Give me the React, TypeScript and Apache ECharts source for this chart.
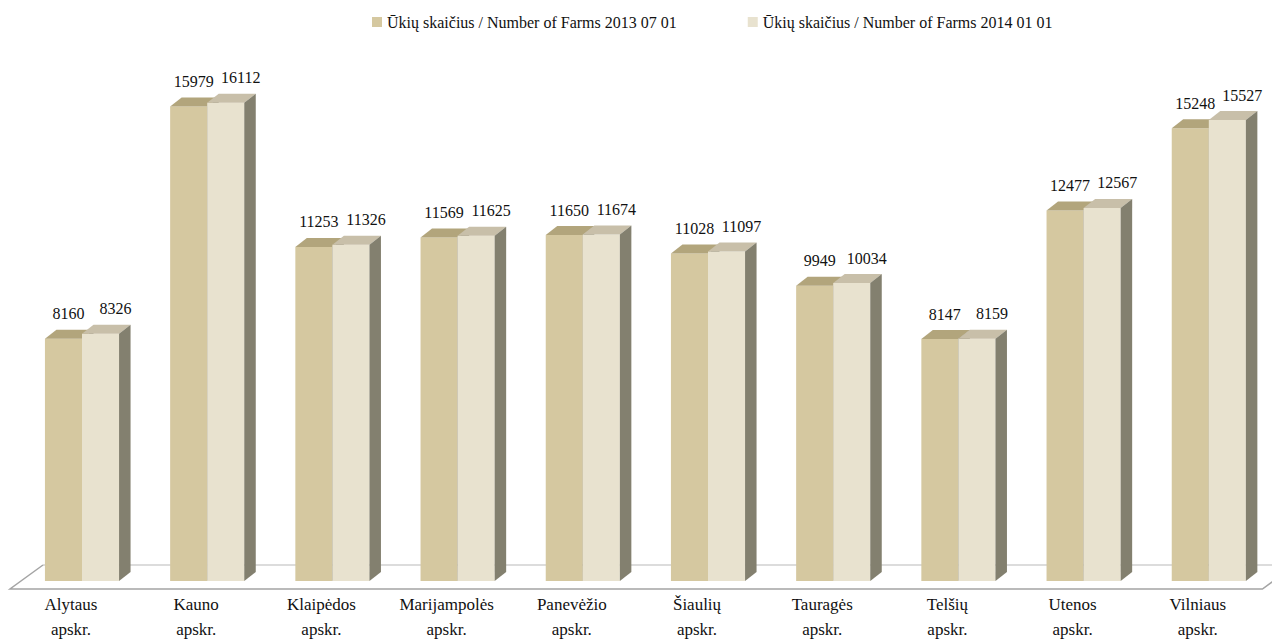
import React, { useEffect, useRef } from "react";
import * as echarts from "echarts";

const categories = [
  "Alytaus\napskr.",
  "Kauno\napskr.",
  "Klaipėdos\napskr.",
  "Marijampolės\napskr.",
  "Panevėžio\napskr.",
  "Šiaulių\napskr.",
  "Tauragės\napskr.",
  "Telšių\napskr.",
  "Utenos\napskr.",
  "Vilniaus\napskr.",
];
const farms2013 = [8160, 15979, 11253, 11569, 11650, 11028, 9949, 8147, 12477, 15248];
const farms2014 = [8326, 16112, 11326, 11625, 11674, 11097, 10034, 8159, 12567, 15527];
const seriesNames = [
  "Ūkių skaičius / Number of Farms 2013 07 01",
  "Ūkių skaičius / Number of Farms 2014 01 01",
];

const FONT = "Liberation Serif";
const DX = 11.5;
const DY = 9;
const front = ["#d5c8a0", "#e8e2cf"];
const top = ["#b2a57c", "#c8bfa9"];
const side = "#83806f";

function makeBarRender(s: number) {
  return (params: any, api: any) => {
    const idx = api.value(0);
    const val = api.value(1);
    const p = api.coord([idx, val]);
    const b = api.coord([idx, 0]);
    const band = api.size([1, 0])[0];
    const w = band * 0.296;
    const cx = p[0];
    const yTop = p[1];
    const y0 = b[1];
    const x0 = s === 0 ? cx - w : cx;
    const x1 = x0 + w;
    const children: any[] = [
      {
        type: "rect",
        shape: { x: x0, y: yTop, width: w, height: y0 - yTop },
        style: { fill: front[s] },
      },
      {
        type: "polygon",
        shape: {
          points: [
            [x0, yTop],
            [x0 + DX, yTop - DY],
            [x1 + DX, yTop - DY],
            [x1, yTop],
          ],
        },
        style: { fill: top[s] },
      },
      {
        type: "polygon",
        shape: {
          points: [
            [x1, yTop],
            [x1 + DX, yTop - DY],
            [x1 + DX, y0 - DY],
            [x1, y0],
          ],
        },
        style: { fill: side },
      },
      {
        type: "text",
        style: {
          text: String(val),
          x: x0 + w / 2 + (s === 0 ? 5 : 15),
          y: yTop - DY - 8,
          align: "center",
          verticalAlign: "bottom",
          fontFamily: FONT,
          fontSize: 16,
          fill: "#111",
        },
      },
    ];
    return { type: "group", children };
  };
}

function renderFloor(params: any, api: any) {
  const cs = params.coordSys;
  const y0 = api.coord([0, 0])[1];
  const yf = y0 + 8;
  const yb = y0 - 16;
  const xl = 10;
  const xr = cs.x + cs.width;
  return {
    type: "group",
    children: [
      {
        type: "polygon",
        shape: {
          points: [
            [xl, yf],
            [xl + 33, yb],
            [xr + 40, yb],
            [xr - 9, yf],
          ],
        },
        style: { fill: "#ffffff", stroke: "none" },
      },
      {
        type: "polyline",
        shape: { points: [[xl + 33, yb], [xr + 40, yb]] },
        style: { stroke: "#d0d0d0", lineWidth: 1.5, fill: "none" },
      },
      {
        type: "polyline",
        shape: {
          points: [
            [xl + 33, yb],
            [xl, yf],
            [xr - 9, yf],
            [xr + 24, yb],
          ],
        },
        style: { stroke: "#a4a4a4", lineWidth: 1.5, fill: "none" },
      },
    ],
  };
}

export default function App() {
  const ref = useRef<HTMLDivElement>(null);
  useEffect(() => {
    if (!ref.current) return;
    const chart = echarts.init(ref.current, undefined, { renderer: "svg" });
    chart.setOption({
      animation: false,
      backgroundColor: "#ffffff",
      textStyle: { fontFamily: FONT },
      legend: {
        left: 372,
        top: 14,
        padding: 0,
        itemWidth: 10,
        itemHeight: 10,
        itemGap: 71,
        icon: "rect",
        data: seriesNames,
        textStyle: { fontFamily: FONT, fontSize: 16, color: "#111" },
      },
      grid: { left: 19.4, right: 0.6, top: 46.6, bottom: 59 },
      xAxis: {
        type: "category",
        data: categories,
        boundaryGap: true,
        axisLine: { show: false },
        axisTick: { show: false },
        splitLine: { show: false },
        axisLabel: {
          interval: 0,
          margin: 11,
          fontFamily: FONT,
          fontSize: 17,
          lineHeight: 25,
          color: "#111",
          padding: [0, 22, 0, 0],
        },
      },
      yAxis: {
        type: "value",
        min: 0,
        max: 18000,
        show: false,
        splitLine: { show: false },
      },
      series: [
        {
          name: "floor",
          type: "custom",
          renderItem: renderFloor,
          data: [[0, 0]],
          silent: true,
          z: 1,
          legendHoverLink: false,
        },
        {
          name: seriesNames[0],
          type: "custom",
          renderItem: makeBarRender(0),
          itemStyle: { color: front[0] },
          data: farms2013.map((v, i) => [i, v]),
          encode: { x: 0, y: 1 },
          z: 2,
        },
        {
          name: seriesNames[1],
          type: "custom",
          renderItem: makeBarRender(1),
          itemStyle: { color: front[1] },
          data: farms2014.map((v, i) => [i, v]),
          encode: { x: 0, y: 1 },
          z: 3,
        },
      ],
    });
    return () => chart.dispose();
  }, []);
  return (
    <div
      ref={ref}
      style={{ position: "absolute", left: 0, top: 0, width: 1272, height: 642, background: "#fff" }}
    />
  );
}
